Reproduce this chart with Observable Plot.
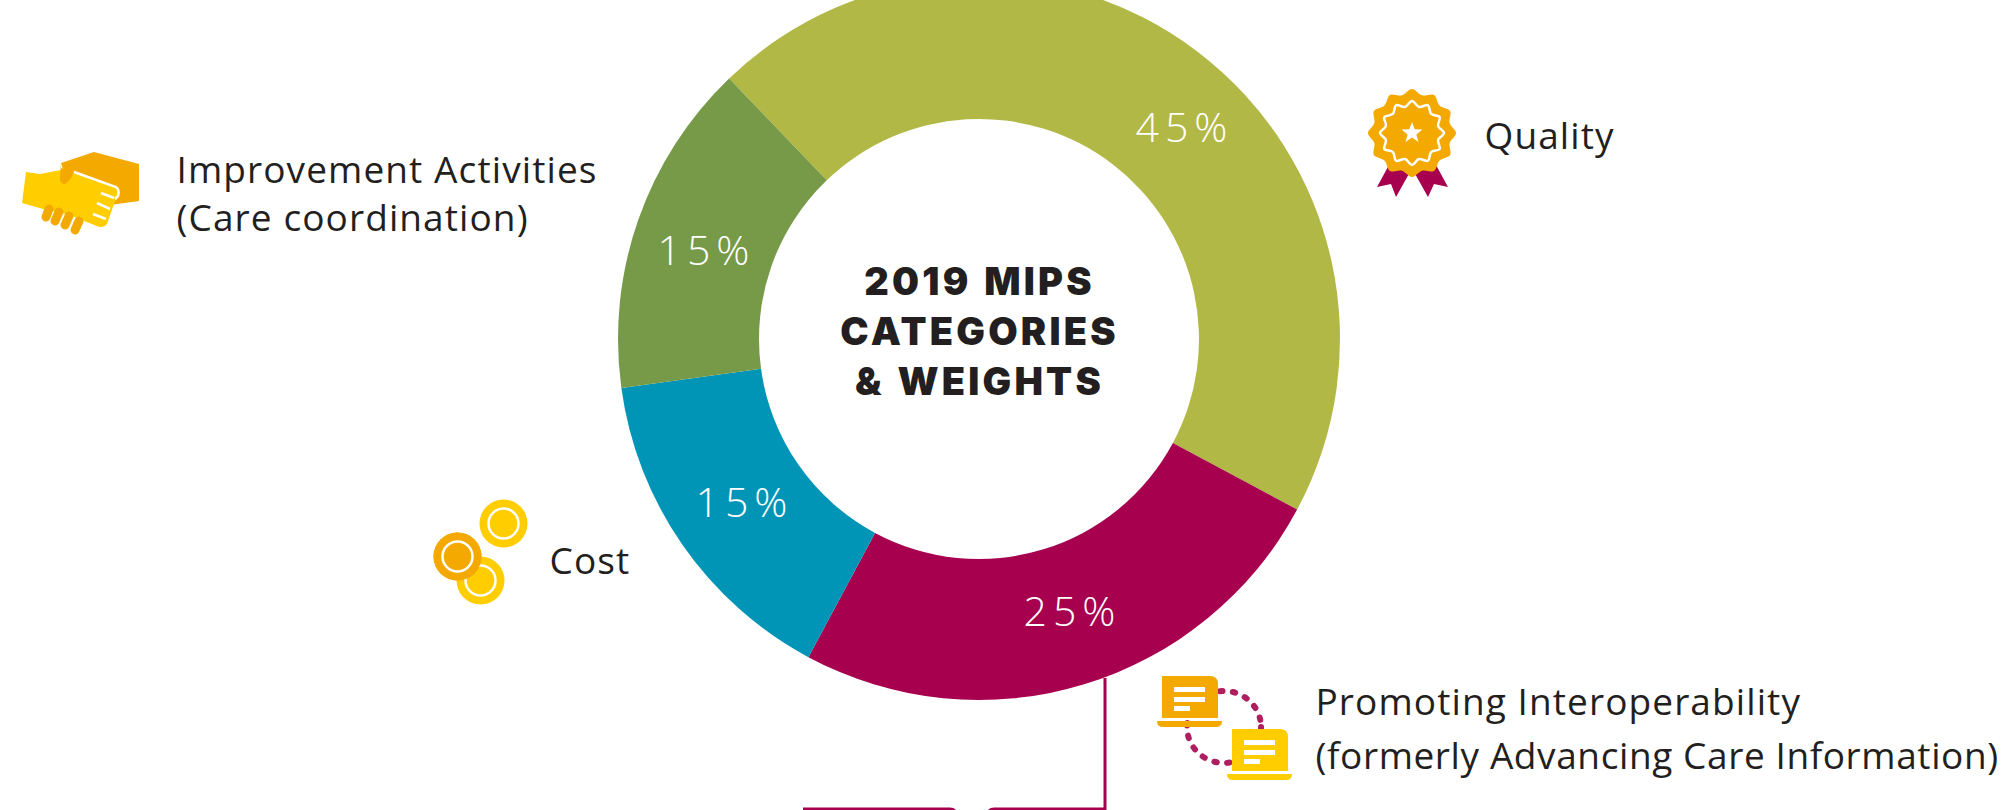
<!DOCTYPE html>
<html><head><meta charset="utf-8">
<script src="https://cdn.jsdelivr.net/npm/d3@7"></script>
<script src="https://cdn.jsdelivr.net/npm/@observablehq/plot@0.6"></script>
<style>html,body{margin:0;padding:0;background:#fff;overflow:hidden}svg{display:block}</style>
</head><body><div id="chart"></div>
<script>
const categories = ["Quality", "Promoting Interoperability", "Cost", "Improvement Activities"];
const weights = [45, 25, 15, 15];
const sliceColors = ["#b2b846", "#a6004e", "#0095b6", "#769a48"];
const percentX = [1181, 1069, 741, 703];
const percentY = [128, 612, 503, 251];
const titleLines = ["2019 MIPS", "CATEGORIES", "& WEIGHTS"];
const labelLines = ["Improvement Activities", "(Care coordination)", "Quality", "Cost", "Promoting Interoperability", "(formerly Advancing Care Information)"];
const labelX = [176, 176, 1484, 549, 1315, 1315];
const labelY = [182, 230, 148, 573, 714, 768];
const titleY = [294, 344, 394];
const coinX = [503, 480, 457];
const coinY = [523, 580, 556];

const W = 2007, H = 810, cx = 979, cy = 339, rOuter = 361, rInner = 220;
const startAngle = -43.8 * Math.PI / 180;
const pie = d3.pie().sort(null).value(d => d).startAngle(startAngle).endAngle(startAngle + 2 * Math.PI)(weights);
const arc = d3.arc().innerRadius(rInner).outerRadius(rOuter);
const orange = "#f3a900", yellow = "#ffcd00", magenta = "#a6004e";

function svgMark(build) {
  return (index, scales) => {
    const g = d3.create("svg:g");
    build(g, scales);
    return g.node();
  };
}
const spaced = (ls, ws = 0) => function (index, scales, values, dims, context, next) {
  const g = next(index, scales, values, dims, context);
  d3.select(g).style("letter-spacing", ls + "px").style("word-spacing", ws + "px");
  return g;
};
const donut = svgMark((g, {x, y}) => {
  g.attr("transform", `translate(${x(cx)},${y(cy)})`);
  g.selectAll("path").data(pie).join("path").attr("d", arc).attr("fill", (d, i) => sliceColors[i]);
});
const wavy = (r0, r1, n) => d3.lineRadial().curve(d3.curveCatmullRomClosed.alpha(0.5))(
  d3.range(n * 2).map(i => [i * Math.PI / n, i % 2 ? r1 : r0]));
const starPath = r => "M" + d3.range(10).map(i => {
  const a = i * Math.PI / 5, q = i % 2 ? r * 0.42 : r;
  return [q * Math.sin(a), -q * Math.cos(a)].join(",");
}).join("L") + "Z";

const icons = svgMark(g => {
  const p = (d, attrs = {}) => { const e = g.append("path").attr("d", d); for (const k in attrs) e.attr(k, attrs[k]); return e; };
  // handshake
  p("M61,163L94,152L139,164L139,201L110,205L70,190Z", {fill: orange});
  p("M26,172L40,174L61,170L74,172L118,187Q122,195 116,200L114,204L107,224Q103,229 97,226L84,221L70,215L43,209L22,203Z", {fill: yellow});
  p("M61,163L60,178Q60,184 65,184Q71,180 74,172L61,168Z", {fill: orange});
  p("M74,172L116,187Q120,190 118,196L115,199", {fill: "none", stroke: "#fff", "stroke-width": 2.5});
  p("M101,193L114,198M97,203L110,209M93,214L106,219", {stroke: "#fff", "stroke-width": 2.5, fill: "none"});
  p("M49,209L46,217M59,212L55,221M69,216L65,225M79,221L75,230", {stroke: orange, "stroke-width": 9, "stroke-linecap": "round", fill: "none"});
  // quality rosette
  p("M1389,165L1377,187L1391,184L1396,197L1410,172L1402,160Z", {fill: magenta});
  p("M1436,165L1448,187L1434,184L1428,197L1414,172L1423,160Z", {fill: magenta});
  p(wavy(44, 39, 12), {fill: orange, transform: "translate(1412,133)"});
  p(wavy(32, 27, 12), {fill: "none", stroke: "#fff", "stroke-width": 2.5, transform: "translate(1412,133)"});
  p(starPath(11), {fill: "#fff", transform: "translate(1412,133)"});
  // dotted link behind laptops
  g.append("ellipse").attr("cx", 1224).attr("cy", 727).attr("rx", 37).attr("ry", 36)
    .attr("fill", "none").attr("stroke", "#ae1f5f").attr("stroke-width", 6)
    .attr("stroke-linecap", "round").attr("stroke-dasharray", "2.5 10.4");
  // laptops
  const laptop = (dx, dy, fill) => {
    const t = `translate(${dx},${dy})`;
    p("M1162,676H1210Q1218,676 1218,684V718H1162Z", {fill, transform: t});
    p("M1157,721H1222Q1222,727 1216,727H1163Q1157,727 1157,721Z", {fill, transform: t});
    p("M1174,687H1205V692H1174ZM1174,697H1205V702H1174ZM1174,706H1190V711H1174Z", {fill: "#fff", transform: t});
  };
  laptop(0, 0, orange);
  laptop(70, 53, yellow);
  // connector
  p("M1105,678V809H994Q991,809 989,811M955,811Q953,809 950,809H803", {fill: "none", stroke: magenta, "stroke-width": 3});
});

const sans = "'Open Sans', Lato, sans-serif";
const labelOptions = {
  x: d => labelX[labelLines.indexOf(d)], y: d => labelY[labelLines.indexOf(d)], text: d => d,
  fill: "#231f20", fontSize: 37, fontWeight: 400, fontFamily: sans, textAnchor: "start", lineAnchor: "bottom"
};
const plot = Plot.plot({
  width: W, height: H, margin: 0,
  x: {domain: [0, W], range: [0, W], axis: null},
  y: {domain: [0, H], range: [0, H], axis: null},
  style: {background: "#fff"},
  marks: [
    donut,
    icons,
    Plot.dot(coinX, {
      x: d => d, y: (d, i) => coinY[i], r: 24, fill: d => d === 457 ? orange : yellow
    }),
    Plot.dot(coinX, {x: d => d, y: (d, i) => coinY[i], r: 15, stroke: "#fff", strokeWidth: 2.5}),
    Plot.dot([coinX[2]], {x: d => d, y: () => coinY[2], r: 24, fill: orange}),
    Plot.dot([coinX[2]], {x: d => d, y: () => coinY[2], r: 15, stroke: "#fff", strokeWidth: 2.5}),
    Plot.text(weights, {
      x: (d, i) => percentX[i] + 3, y: (d, i) => percentY[i],
      text: d => d + "%", fill: "#fff", fontSize: 41, fontWeight: 300, fontFamily: sans,
      textAnchor: "middle", lineAnchor: "middle", render: spaced(6)
    }),
    Plot.text(titleLines, {
      x: () => cx, y: (d, i) => titleY[i], text: d => d, fill: "#231f20", fontSize: 38, fontWeight: 900,
      fontFamily: "Inter, sans-serif", textAnchor: "middle", lineAnchor: "bottom", render: spaced(3.2, 2)
    }),
    Plot.text(labelLines.slice(0, 5), {...labelOptions, render: spaced(1.1)}),
    Plot.text(labelLines.slice(5), {...labelOptions, render: spaced(0.6)})
  ]
});
document.getElementById("chart").append(plot);
</script></body></html>
